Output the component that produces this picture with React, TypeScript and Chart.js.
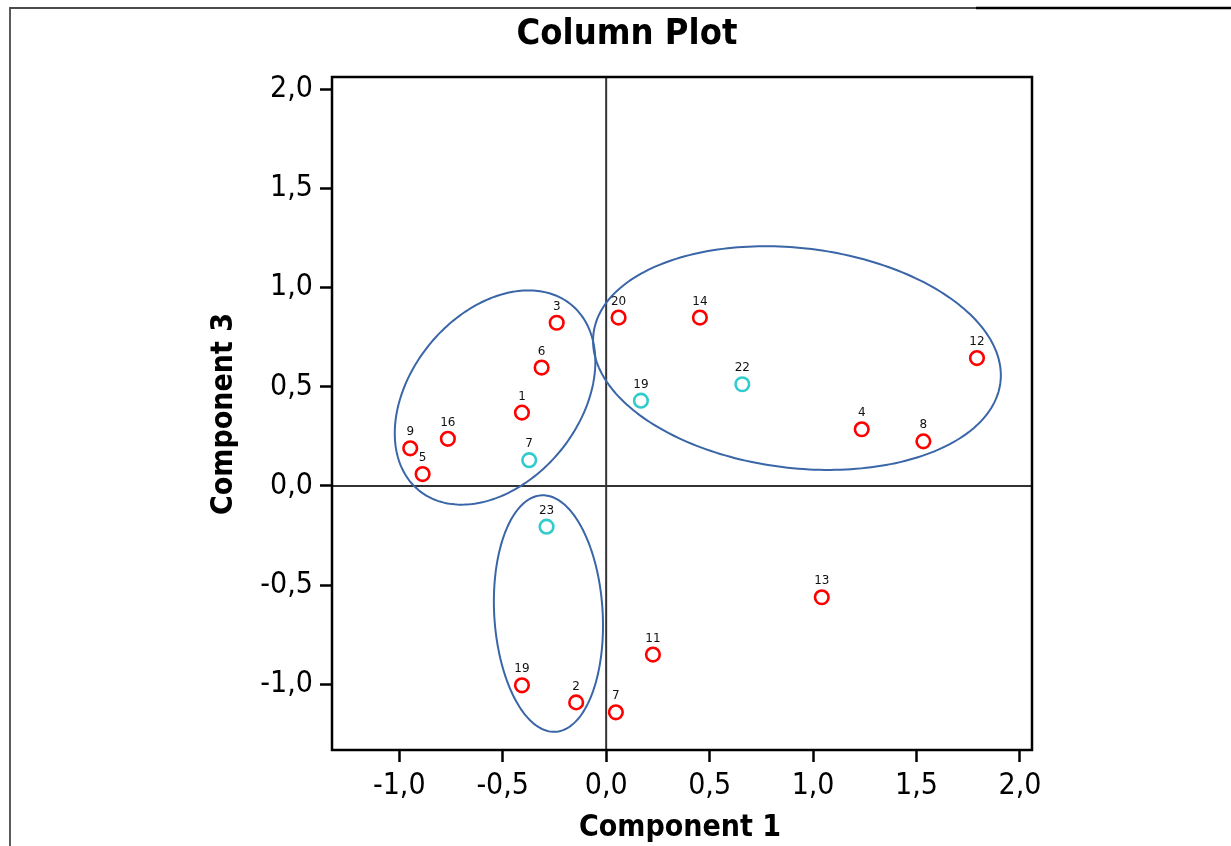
import React, { useEffect, useRef } from "react";
import { Chart, registerables } from "chart.js";

Chart.register(...registerables);

// ---- data ----
const redLabels = ["3", "6", "1", "16", "9", "5", "20", "14", "12", "4", "8", "19", "2", "7", "11", "13"];
const redX = [-0.239, -0.312, -0.407, -0.765, -0.947, -0.887, 0.06, 0.453, 1.792, 1.235, 1.533, -0.407, -0.145, 0.047, 0.226, 1.042];
const redY = [0.823, 0.597, 0.37, 0.238, 0.19, 0.06, 0.849, 0.849, 0.645, 0.286, 0.225, -1.005, -1.091, -1.141, -0.85, -0.561];

const cyanLabels = ["7", "19", "22", "23"];
const cyanX = [-0.372, 0.168, 0.658, -0.288];
const cyanY = [0.13, 0.43, 0.513, -0.205];

// ellipses (data units): centre, semi-axes, rotation (deg)
const ellipseCX = [-0.537, 0.922, -0.279];
const ellipseCY = [0.446, 0.645, -0.643];
const ellipseA = [0.596, 0.991, 0.597];
const ellipseB = [0.414, 0.554, 0.262];
const ellipseAngle = [54, -7.35, 93.2];

const xRange = [-1.325, 2.058];
const yRange = [-1.331, 2.062];
const tickStep = 0.5;

const titleText = "Column Plot";
const xTitle = "Component 1";
const yTitle = "Component 3";

const COND = "'DejaVu Sans Condensed', 'DejaVu Sans', sans-serif";
const REG = "'DejaVu Sans', Verdana, sans-serif";

const fmt = (v: number) => Number(v).toFixed(1).replace(".", ",");

const decorPlugin = {
  id: "decor",
  beforeDatasetsDraw(chart: any) {
    const { ctx, chartArea: ca, scales } = chart;
    const xs = scales.x;
    const ys = scales.y;
    ctx.save();
    // zero lines
    ctx.strokeStyle = "#333333";
    ctx.lineWidth = 2;
    const x0 = xs.getPixelForValue(0);
    const y0 = ys.getPixelForValue(0);
    ctx.beginPath();
    ctx.moveTo(x0, ca.top);
    ctx.lineTo(x0, ca.bottom);
    ctx.moveTo(ca.left, y0);
    ctx.lineTo(ca.right, y0);
    ctx.stroke();
    // ellipses
    ctx.strokeStyle = "#3a66a8";
    ctx.lineWidth = 2;
    for (let e = 0; e < ellipseCX.length; e++) {
      const th = (ellipseAngle[e] * Math.PI) / 180;
      const N = 240;
      ctx.beginPath();
      for (let i = 0; i <= N; i++) {
        const t = (2 * Math.PI * i) / N;
        const dx = ellipseA[e] * Math.cos(t);
        const dy = ellipseB[e] * Math.sin(t);
        const X = ellipseCX[e] + dx * Math.cos(th) - dy * Math.sin(th);
        const Y = ellipseCY[e] + dx * Math.sin(th) + dy * Math.cos(th);
        const px = xs.getPixelForValue(X);
        const py = ys.getPixelForValue(Y);
        if (i === 0) ctx.moveTo(px, py);
        else ctx.lineTo(px, py);
      }
      ctx.closePath();
      ctx.stroke();
    }
    ctx.restore();
  },
  afterDatasetsDraw(chart: any) {
    const { ctx } = chart;
    ctx.save();
    ctx.fillStyle = "#111";
    ctx.font = `12px ${REG}`;
    ctx.textAlign = "center";
    ctx.textBaseline = "middle";
    chart.data.datasets.forEach((ds: any, di: number) => {
      const meta = chart.getDatasetMeta(di);
      meta.data.forEach((el: any, i: number) => {
        ctx.fillText(ds.pointLabels[i], el.x, el.y - 16);
      });
    });
    ctx.restore();
  },
  afterDraw(chart: any) {
    const { ctx, chartArea: ca } = chart;
    ctx.save();
    // plot frame
    ctx.strokeStyle = "#000";
    ctx.lineWidth = 2.5;
    ctx.strokeRect(ca.left, ca.top, ca.right - ca.left, ca.bottom - ca.top);
    // outer frame fragments
    ctx.strokeStyle = "#4a4a4a";
    ctx.lineWidth = 1.8;
    ctx.beginPath();
    ctx.moveTo(10, chart.height);
    ctx.lineTo(10, 8);
    ctx.lineTo(976, 8);
    ctx.stroke();
    ctx.strokeStyle = "#000";
    ctx.lineWidth = 2.5;
    ctx.beginPath();
    ctx.moveTo(976, 8);
    ctx.lineTo(chart.width, 8);
    ctx.stroke();
    // titles
    ctx.fillStyle = "#000";
    ctx.textAlign = "center";
    ctx.textBaseline = "alphabetic";
    ctx.font = `bold 36px ${COND}`;
    ctx.fillText(titleText, 627, 44);
    ctx.font = `bold 30px ${COND}`;
    ctx.fillText(xTitle, 680, 836);
    ctx.save();
    ctx.translate(232, 414);
    ctx.rotate(-Math.PI / 2);
    ctx.fillText(yTitle, 0, 0);
    ctx.restore();
    ctx.restore();
  },
};

export default function App() {
  const ref = useRef<HTMLCanvasElement>(null);
  useEffect(() => {
    const red = redX.map((x, i) => ({ x, y: redY[i] }));
    const cyan = cyanX.map((x, i) => ({ x, y: cyanY[i] }));
    const tickFont = { family: COND, size: 30 };
    const chart = new Chart(ref.current as HTMLCanvasElement, {
      type: "scatter",
      data: {
        datasets: [
          {
            label: "red",
            data: red,
            pointLabels: redLabels,
            borderColor: "#ff0000",
            backgroundColor: "rgba(0,0,0,0)",
            pointRadius: 6.8,
            pointBorderWidth: 2.6,
            pointHoverRadius: 6.8,
          } as any,
          {
            label: "cyan",
            data: cyan,
            pointLabels: cyanLabels,
            borderColor: "#33cccc",
            backgroundColor: "rgba(0,0,0,0)",
            pointRadius: 6.8,
            pointBorderWidth: 2.6,
            pointHoverRadius: 6.8,
          } as any,
        ],
      },
      options: {
        animation: false,
        responsive: false,
        devicePixelRatio: 1,
        layout: { padding: { left: 0, top: 77, right: 199, bottom: 0 } },
        plugins: { legend: { display: false }, tooltip: { enabled: false }, title: { display: false } },
        scales: {
          x: {
            type: "linear",
            min: xRange[0],
            max: xRange[1],
            afterFit: (s: any) => {
              s.height = 96;
            },
            border: { display: false },
            grid: { display: true, drawOnChartArea: false, drawTicks: true, tickLength: 12, tickWidth: 2.5, tickColor: "#000" },
            ticks: {
              stepSize: tickStep,
              includeBounds: false,
              autoSkip: false,
              maxRotation: 0,
              color: "#000",
              font: tickFont,
              padding: 6,
              callback: (v: any) => fmt(v),
            },
          },
          y: {
            type: "linear",
            min: yRange[0],
            max: yRange[1],
            afterFit: (s: any) => {
              s.width = 332;
            },
            border: { display: false },
            grid: { display: true, drawOnChartArea: false, drawTicks: true, tickLength: 12, tickWidth: 2.5, tickColor: "#000" },
            ticks: {
              stepSize: tickStep,
              includeBounds: false,
              autoSkip: false,
              color: "#000",
              font: tickFont,
              padding: 7,
              callback: (v: any) => fmt(v),
            },
          },
        },
      } as any,
      plugins: [decorPlugin],
    });
    return () => chart.destroy();
  }, []);
  return (
    <div style={{ position: "fixed", left: 0, top: 0, width: 1231, height: 846, background: "#fff" }}>
      <canvas ref={ref} width={1231} height={846} style={{ display: "block", width: 1231, height: 846 }} />
    </div>
  );
}
